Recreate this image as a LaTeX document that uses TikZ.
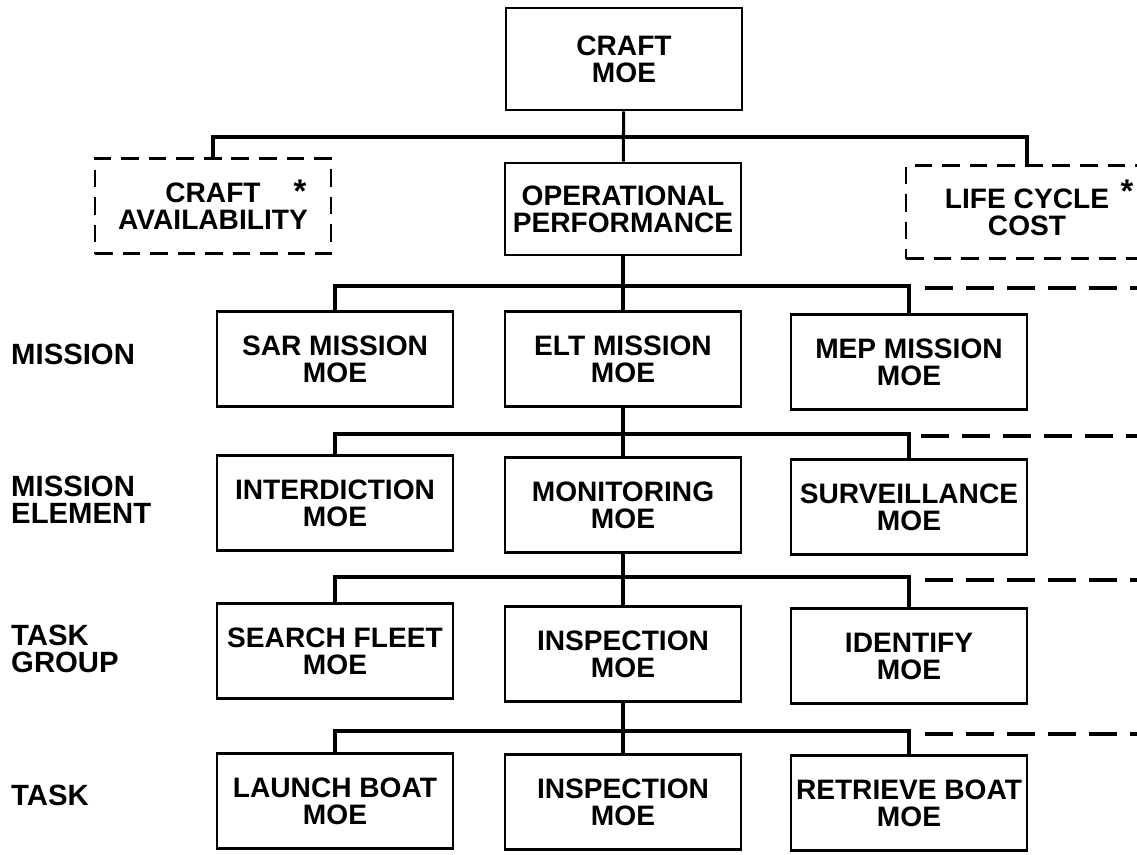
\documentclass[tikz,border=0pt]{standalone}
\usepackage{fontspec}
\setmainfont{Liberation Sans}
\begin{document}
\begin{tikzpicture}[x=0.03cm, y=-0.03cm,
    moe/.style={draw, line width=2.2pt, minimum width=7.08cm, minimum height=2.85cm,
        inner sep=0pt, align=center, font=\fontsize{24}{23}\selectfont\bfseries},
    optbox/.style={moe, dash pattern=on 15pt off 8.5pt},
    starnote/.style={inner sep=0pt, anchor=base, font=\fontsize{28}{28}\selectfont\bfseries},
    level/.style={anchor=west, inner sep=0pt, align=left, font=\fontsize{25}{23}\selectfont\bfseries},
    stem/.style={line width=2.6pt},
    bar/.style={line width=3.2pt, line cap=rect},
    dashline/.style={line width=3.2pt, dash pattern=on 24pt off 11pt}]
    \path[fill=white, use as bounding box] (0,0) rectangle (1137,854);
    \clip (0,0) rectangle (1137,854);

    % top of the tree
    \node[moe, minimum height=3.06cm] (craft) at (624,59) {CRAFT\\MOE};
    \node[optbox] (avail) at (213,206) {CRAFT\\AVAILABILITY};
    \node[moe, minimum height=2.76cm] (oper) at (623,209) {OPERATIONAL\\PERFORMANCE};
    \node[optbox, minimum width=7.26cm, minimum height=2.79cm] (lcc) at (1027,212) {LIFE CYCLE\\COST};
    \node[starnote] (astar) at (300,202) {*};
    \node[starnote] (lstar) at (1127,202) {*};

    % levels on the left
    \node[level] (lmis) at (11,354) {MISSION};
    \node[level] (lelem) at (11,500) {MISSION\\ELEMENT};
    \node[level] (lgrp) at (11,649) {TASK\\GROUP};
    \node[level] (ltask) at (11,795) {TASK};

    % mission
    \node[moe] (sar) at (335,359) {SAR MISSION\\MOE};
    \node[moe] (elt) at (623,359) {ELT MISSION\\MOE};
    \node[moe] (mep) at (909,362) {MEP MISSION\\MOE};

    % mission element
    \node[moe] (inter) at (335,503) {INTERDICTION\\MOE};
    \node[moe] (monit) at (623,505) {MONITORING\\MOE};
    \node[moe] (surv) at (909,507) {SURVEILLANCE\\MOE};

    % task group
    \node[moe] (search) at (335,651) {SEARCH FLEET\\MOE};
    \node[moe] (insp) at (623,654) {INSPECTION\\MOE};
    \node[moe] (ident) at (909,656) {IDENTIFY\\MOE};

    % task
    \node[moe] (launch) at (335,801) {LAUNCH BOAT\\MOE};
    \node[moe] (insptask) at (623,802) {INSPECTION\\MOE};
    \node[moe] (retr) at (909,803) {RETRIEVE BOAT\\MOE};

    % joints of the bars
    \coordinate (b1) at (624,137);
    \coordinate (b2) at (623,286);
    \coordinate (b3) at (623,434);
    \coordinate (b4) at (623,577);
    \coordinate (b5) at (623,731);
    \coordinate (e2) at (1137,288);
    \coordinate (e3) at (1137,436);
    \coordinate (e4) at (1137,580);
    \coordinate (e5) at (1137,734);

    % craft level
    \draw[stem] (craft) -- (oper);
    \draw[stem] (avail.north) -- (avail.north |- b1);
    \draw[stem] (lcc.north) -- (lcc.north |- b1);
    \draw[bar] (avail.north |- b1) -- (lcc.north |- b1);

    % operational performance -> missions
    \draw[stem] (oper) -- (elt);
    \draw[stem] (sar.north) -- (sar.north |- b2);
    \draw[stem] (mep.north) -- (mep.north |- b2);
    \draw[bar] (sar.north |- b2) -- (mep.north |- b2);
    \draw[dashline] ([xshift=0.48cm]mep.north |- e2) -- (e2);

    % elt mission -> mission elements
    \draw[stem] (elt) -- (monit);
    \draw[stem] (inter.north) -- (inter.north |- b3);
    \draw[stem] (surv.north) -- (surv.north |- b3);
    \draw[bar] (inter.north |- b3) -- (surv.north |- b3);
    \draw[dashline] ([xshift=0.36cm]surv.north |- e3) -- (e3);

    % monitoring -> task groups
    \draw[stem] (monit) -- (insp);
    \draw[stem] (search.north) -- (search.north |- b4);
    \draw[stem] (ident.north) -- (ident.north |- b4);
    \draw[bar] (search.north |- b4) -- (ident.north |- b4);
    \draw[dashline] ([xshift=0.48cm]ident.north |- e4) -- (e4);

    % inspection -> tasks
    \draw[stem] (insp) -- (insptask);
    \draw[stem] (launch.north) -- (launch.north |- b5);
    \draw[stem] (retr.north) -- (retr.north |- b5);
    \draw[bar] (launch.north |- b5) -- (retr.north |- b5);
    \draw[dashline] ([xshift=0.48cm]retr.north |- e5) -- (e5);
\end{tikzpicture}
\end{document}
